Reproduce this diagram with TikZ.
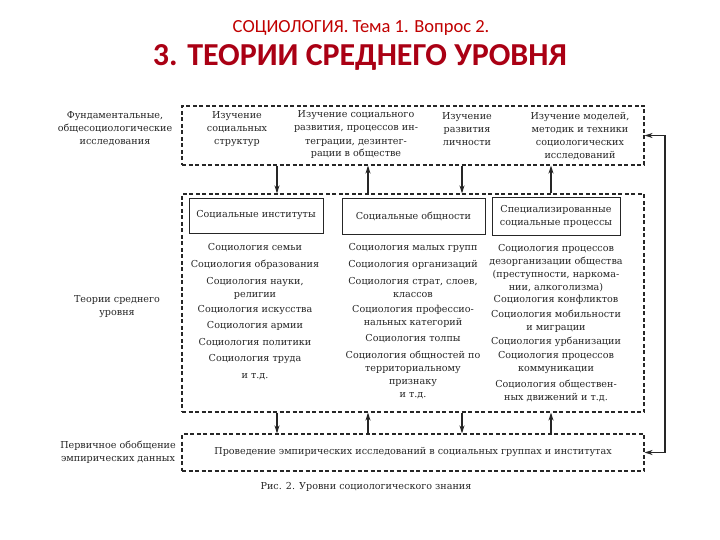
\documentclass[tikz,border=0pt]{standalone}
\usepackage{fontspec}
\setmainfont{DejaVu Serif}
\newfontfamily\slidefont{Carlito}
\usetikzlibrary{arrows.meta}
\definecolor{titlered}{RGB}{192,0,0}
\definecolor{headred}{RGB}{170,0,20}
\definecolor{scan}{gray}{0.15}

\begin{document}
\begin{tikzpicture}[x=1pt,y=-1pt,
    txt/.style={font=\fontsize{9.6}{13}\selectfont, text=scan, align=center, inner sep=0pt},
    dbox/.style={draw=scan, dash pattern=on 4pt off 2.5pt, line width=1.1pt, minimum width=462pt, inner sep=0pt},
    sbox/.style={draw=scan, line width=0.9pt, inner sep=0pt, font=\fontsize{9.6}{13}\selectfont, text=scan, align=center},
    arr/.style={draw=scan, line width=1.1pt, -{Stealth[length=8pt,width=5pt]}},
    dbl/.style={draw=scan, line width=1.1pt, {Stealth[length=8pt,width=5pt]}-{Stealth[length=8pt,width=5pt]}}]
    \useasboundingbox (0,0) rectangle (720,540);

    % titles
    \node[font=\slidefont\fontsize{18.5}{20}\selectfont, text=titlered] (sub) at (361,28) {СОЦИОЛОГИЯ. Тема 1. Вопрос 2.};
    \node[font=\slidefont\bfseries\fontsize{32}{36}\selectfont, text=headred] (head) at (360,57) {3. ТЕОРИИ СРЕДНЕГО УРОВНЯ};

    % three levels
    \node[dbox, minimum height=59pt] (top) at (413,135.5) {};
    \node[dbox, minimum height=218pt] (mid) at (413,303) {};
    \node[dbox, minimum height=37pt] (bot) at (413,452.5) {};

    \node[txt] (lvl1) at (115,129) {Фундаментальные,\\общесоциологические\\исследования};
    \node[txt] (lvl2) at (117,306.5) {Теории среднего\\уровня};
    \node[txt] (lvl3) at (118,452.5) {Первичное обобщение\\эмпирических данных};

    % top level
    \node[txt] (f1) at (237,129) {Изучение\\социальных\\структур};
    \node[txt] (f2) at (356,135) {Изучение социального\\развития, процессов ин-\\теграции, дезинтег-\\рации в обществе};
    \node[txt] (f3) at (467,129) {Изучение\\развития\\личности};
    \node[txt] (f4) at (580,136.5) {Изучение моделей,\\методик и техники\\социологических\\исследований};

    % middle level
    \node[sbox, minimum width=134pt, minimum height=35pt] (inst) at (256,215.5) {Социальные институты};
    \node[sbox, minimum width=143pt, minimum height=36pt] (comm) at (413.5,216) {Социальные общности};
    \node[sbox, minimum width=128pt, minimum height=38pt] (proc) at (556,216) {Специализированные\\социальные процессы};

    \node[txt] (i1) at (255,248) {Социология семьи};
    \node[txt] (i2) at (255,265) {Социология образования};
    \node[txt] (i3) at (255,288.5) {Социология науки,\\религии};
    \node[txt] (i4) at (255,310) {Социология искусства};
    \node[txt] (i5) at (255,326) {Социология армии};
    \node[txt] (i6) at (255,343) {Социология политики};
    \node[txt] (i7) at (255,359) {Социология труда};
    \node[txt] (i8) at (255,377) {и т.д.};

    \node[txt] (c1) at (413,248) {Социология малых групп};
    \node[txt] (c2) at (413,265) {Социология организаций};
    \node[txt] (c3) at (413,288) {Социология страт, слоев,\\классов};
    \node[txt] (c4) at (413,316.5) {Социология профессио-\\нальных категорий};
    \node[txt] (c5) at (413,339) {Социология толпы};
    \node[txt] (c6) at (413,368.5) {Социология общностей по\\территориальному\\признаку};
    \node[txt] (c7) at (413,396) {и т.д.};

    \node[txt] (p1) at (556,268) {Социология процессов\\дезорганизации общества\\(преступности, наркома-\\нии, алкоголизма)};
    \node[txt] (p2) at (556,300) {Социология конфликтов};
    \node[txt] (p3) at (556,321) {Социология мобильности\\и миграции};
    \node[txt] (p4) at (556,342) {Социология урбанизации};
    \node[txt] (p5) at (556,363) {Социология процессов\\коммуникации};
    \node[txt] (p6) at (556,390.5) {Социология обществен-\\ных движений и т.д.};

    % bottom level
    \node[txt] (emp) at (413,452) {Проведение эмпирических исследований в социальных группах и институтах};
    \node[txt] (cap) at (366,487) {Рис. 2. Уровни социологического знания};

    % links between levels
    \foreach \x in {277,462} {
        \draw[arr] (top.south -| \x,0) -- (mid.north -| \x,0);
        \draw[arr] (mid.south -| \x,0) -- (bot.north -| \x,0);
    }
    \foreach \x in {368,551} {
        \draw[arr] (mid.north -| \x,0) -- (top.south -| \x,0);
        \draw[arr] (bot.north -| \x,0) -- (mid.south -| \x,0);
    }
    \coordinate (rl) at (665,0);
    \draw[dbl] (top.east) -- (top.east -| rl) -- (bot.east -| rl) -- (bot.east);
\end{tikzpicture}
\end{document}
